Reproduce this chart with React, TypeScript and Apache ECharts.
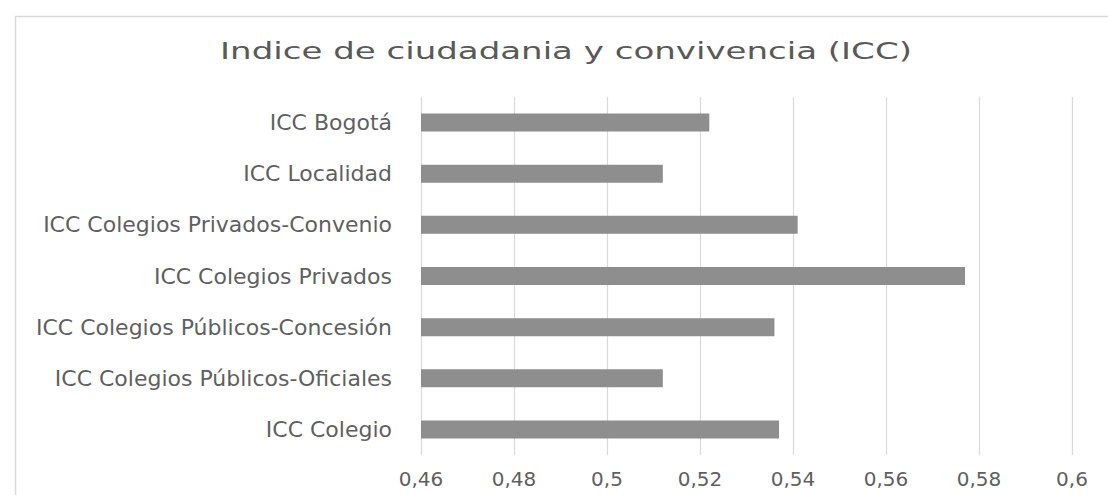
import React, { useEffect, useRef } from "react";
import * as echarts from "echarts";

const titleText = "Indice de ciudadania y convivencia (ICC)";

const categories = [
  "ICC Bogotá",
  "ICC Localidad",
  "ICC Colegios Privados-Convenio",
  "ICC Colegios Privados",
  "ICC Colegios Públicos-Concesión",
  "ICC Colegios Públicos-Oficiales",
  "ICC Colegio",
];

const values = [0.522, 0.512, 0.541, 0.577, 0.536, 0.512, 0.537];

const axisMin = 0.46;
const axisMax = 0.6;
const axisStep = 0.02;

export default function App() {
  const ref = useRef<HTMLDivElement>(null);

  useEffect(() => {
    if (!ref.current) return;
    const chart = echarts.init(ref.current, undefined, { renderer: "svg" });
    chart.setOption({
      animation: false,
      backgroundColor: "#ffffff",
      graphic: [
        {
          type: "rect",
          left: 13,
          top: 14,
          shape: { x: 0, y: 0, width: 1200, height: 600 },
          style: { fill: "none", stroke: "#d9d9d9", lineWidth: 1.5 },
          silent: true,
          z: -10,
        },
        {
          type: "text",
          x: 566,
          y: 51,
          scaleX: 1.48,
          style: {
            text: titleText,
            fontFamily: "DejaVu Sans",
            fontSize: 23,
            fill: "#595959",
            align: "center",
            verticalAlign: "middle",
          },
        },
      ],
      grid: { left: 421, right: 36, top: 97, bottom: 40, containLabel: false },
      xAxis: {
        type: "value",
        min: axisMin,
        max: axisMax,
        interval: axisStep,
        axisLine: { show: false },
        axisTick: { show: false },
        splitLine: { show: true, lineStyle: { color: "#d9d9d9", width: 1.2 } },
        axisLabel: {
          margin: 14,
          color: "#5f5f5f",
          fontFamily: "DejaVu Sans",
          fontSize: 20,
          formatter: (v: number) => String(+v.toFixed(2)).replace(".", ","),
        },
      },
      yAxis: {
        type: "category",
        data: categories,
        inverse: true,
        axisLine: { show: false },
        axisTick: { show: false },
        axisLabel: {
          margin: 29,
          color: "#5f5f5f",
          fontFamily: "DejaVu Sans",
          fontSize: 22,
        },
      },
      series: [
        {
          type: "bar",
          data: values,
          barWidth: 18,
          itemStyle: { color: "#8e8e8e" },
        },
      ],
    });
    return () => chart.dispose();
  }, []);

  return (
    <div
      ref={ref}
      style={{ position: "fixed", left: 0, top: 0, width: 1108, height: 495 }}
    />
  );
}
